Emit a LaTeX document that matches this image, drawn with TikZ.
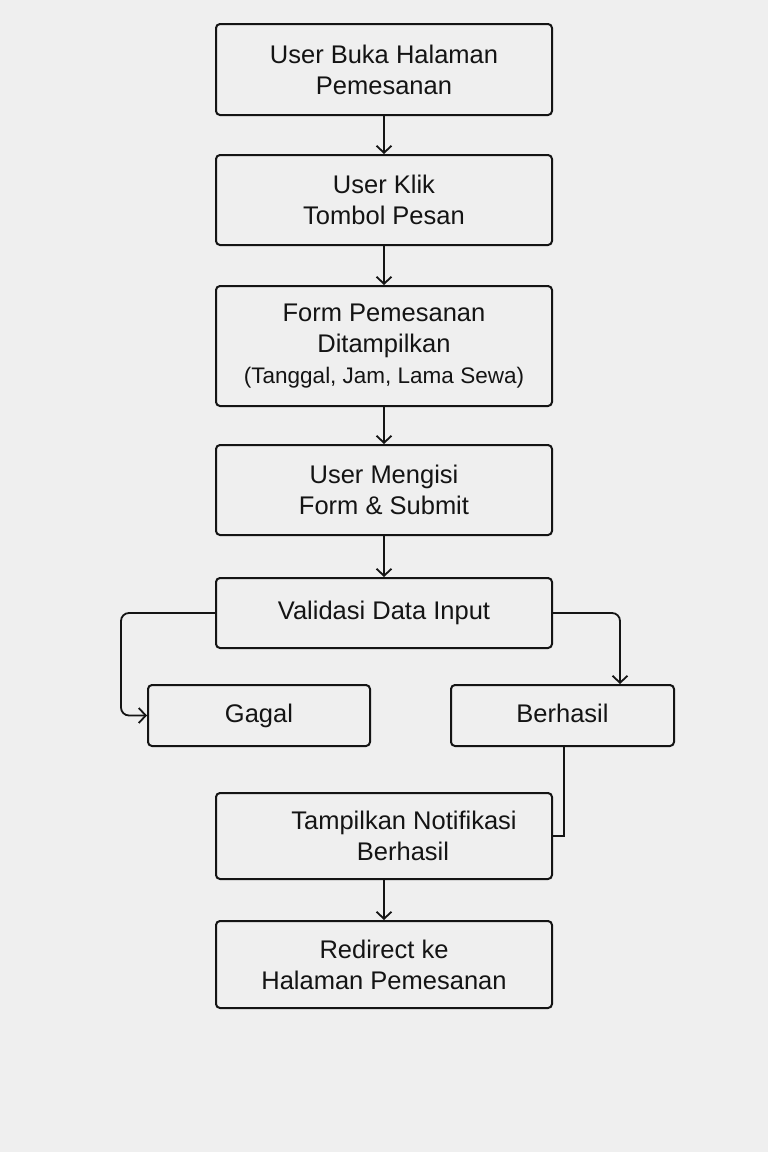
\documentclass[tikz,border=0pt]{standalone}
\usepackage{fontspec}
\setmainfont{Liberation Sans}
\usetikzlibrary{arrows.meta}
\definecolor{bgc}{HTML}{EFEFEF}
\definecolor{ink}{HTML}{141414}
\begin{document}
\begin{tikzpicture}[x=1pt,y=-1pt,
  box/.style={draw=ink,line width=2pt,rounded corners=4pt,fill=bgc,
    minimum width=336pt,align=center,inner sep=0pt,
    font=\fontsize{25.5}{31}\selectfont,text=ink},
  small/.style={box,minimum width=222pt,text height=18pt,text depth=5pt},
  conn/.style={draw=ink,line width=1.8pt,-{Straight Barb[length=7pt,width=15pt,line width=1.8pt]}},
  link/.style={draw=ink,line width=2.6pt}]
\fill[bgc] (0,0) rectangle (768,1152);
\useasboundingbox (0,0) rectangle (768,1152);
\node[box,minimum height=91pt] (b1) at (384,69.5) {User Buka Halaman\\Pemesanan};
\node[box,minimum height=90pt] (b2) at (384,200) {User Klik\\Tombol Pesan};
\node[box,minimum height=120pt] (b3) at (384,346) {Form Pemesanan\\Ditampilkan\\{\fontsize{22.5}{31}\selectfont (Tanggal, Jam, Lama Sewa)}};
\node[box,minimum height=90pt] (b4) at (384,490) {User Mengisi\\Form \& Submit};
\node[box,minimum height=70pt] (b5) at (384,613) {Validasi Data Input};
\node[small,minimum height=61pt] (gagal) at (259,715.5) {Gagal};
\node[small,minimum height=61pt,minimum width=223pt] (berhasil) at (562.5,715.5) {Berhasil};
\node[box,minimum height=86pt] (b8) at (384,836) {\hspace*{40pt}Tampilkan Notifikasi\\\hspace*{38pt}Berhasil};
\node[box,minimum height=87pt] (b9) at (384,964.5) {Redirect ke\\Halaman Pemesanan};
\draw[conn] (b1) -- (b2);
\draw[conn] (b2) -- (b3);
\draw[conn] (b3) -- (b4);
\draw[conn] (b4) -- (b5);
\draw[conn,rounded corners=8pt] (b5.west) -| ([xshift=-26pt]gagal.west) -- (gagal.west);
\draw[conn,rounded corners=8pt] (b5.east) -| ([xshift=57.5pt]berhasil.north);
\draw[link] ([xshift=1.5pt]berhasil.south) |- (b8.east);
\draw[conn] (b8) -- (b9);
\end{tikzpicture}
\end{document}
